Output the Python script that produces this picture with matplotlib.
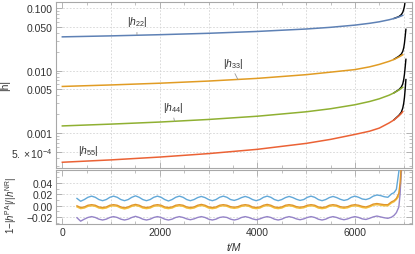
import matplotlib
matplotlib.use('Agg')
import matplotlib.pyplot as plt
from matplotlib.ticker import FixedLocator, MultipleLocator, NullFormatter, LogLocator

# ---------------- data ----------------
t_pa = [0, 1000, 2000, 3000, 4000, 5000, 5500, 6000, 6300, 6500, 6700, 6800, 6900, 6950, 6980]
h22_pa = [0.0348, 0.0361, 0.0377, 0.0397, 0.0425, 0.0465, 0.0495, 0.0537, 0.0574, 0.0607, 0.0654, 0.0685, 0.0726, 0.0752, 0.0769]
h33_pa = [0.00558, 0.00590, 0.00629, 0.00681, 0.00752, 0.00862, 0.00946, 0.0104, 0.0115, 0.0126, 0.0141, 0.0151, 0.0165, 0.0174, 0.0180]
h44_pa = [0.00130, 0.00139, 0.00150, 0.00165, 0.00186, 0.00219, 0.00245, 0.00284, 0.00320, 0.00354, 0.00404, 0.00440, 0.00488, 0.00520, 0.00540]
h55_pa = [3.40e-4, 3.71e-4, 4.12e-4, 4.68e-4, 5.48e-4, 6.82e-4, 7.91e-4, 9.50e-4, 1.07e-3, 1.20e-3, 1.45e-3, 1.62e-3, 1.88e-3, 2.05e-3, 2.20e-3]

t_nr = [6800, 6900, 6950, 6980, 7000, 7015, 7030, 7045]
h22_nr = [0.0686, 0.0735, 0.0790, 0.0860, 0.0960, 0.108, 0.130, 0.165]
h33_nr = [0.0152, 0.0170, 0.0184, 0.0203, 0.0232, 0.0275, 0.0350, 0.0460]
h44_nr = [0.00441, 0.00495, 0.00545, 0.00610, 0.00720, 0.00870, 0.0113, 0.0152]
h55_nr = [1.63e-3, 1.92e-3, 2.15e-3, 2.50e-3, 3.00e-3, 3.70e-3, 5.00e-3, 7.20e-3]

t_err = [300, 375, 450, 525, 600, 675, 750, 825, 900, 975, 1050, 1125, 1200, 1275, 1350, 1425,
         1500, 1575, 1650, 1725, 1800, 1875, 1950, 2025, 2100, 2175, 2250, 2325, 2400, 2475,
         2550, 2625, 2700, 2775, 2850, 2925, 3000, 3075, 3150, 3225, 3300, 3375, 3450, 3525,
         3600, 3675, 3750, 3825, 3900, 3975, 4050, 4125, 4200, 4275, 4350, 4425, 4500, 4575,
         4650, 4725, 4800, 4875, 4950, 5025, 5100, 5175, 5250, 5325, 5400, 5475, 5550, 5625,
         5700, 5775, 5850, 5925, 6000, 6075, 6150, 6225, 6300, 6375, 6450, 6525, 6600, 6675,
         6750, 6800, 6850, 6900, 6925, 6950, 6975, 7000]
err_blue = [0.013, 0.008, 0.011, 0.015, 0.017, 0.015,
            0.011, 0.009, 0.011, 0.015, 0.017, 0.015,
            0.011, 0.009, 0.011, 0.015, 0.0175, 0.015,
            0.011, 0.009, 0.011, 0.015, 0.017, 0.015,
            0.011, 0.0085, 0.011, 0.015, 0.017, 0.015,
            0.011, 0.009, 0.011, 0.0145, 0.0165, 0.0145,
            0.011, 0.009, 0.011, 0.015, 0.017, 0.015,
            0.011, 0.0095, 0.0115, 0.0145, 0.0165, 0.0145,
            0.011, 0.009, 0.011, 0.015, 0.017, 0.015,
            0.011, 0.009, 0.011, 0.0145, 0.0165, 0.0145,
            0.0115, 0.0095, 0.011, 0.015, 0.017, 0.015,
            0.011, 0.009, 0.011, 0.0145, 0.0165, 0.0145,
            0.0115, 0.0095, 0.011, 0.015, 0.017, 0.015,
            0.012, 0.011, 0.013, 0.017, 0.019, 0.018,
            0.016, 0.015,
            0.021, 0.023, 0.029, 0.060, 0.090, 0.15, 0.2, 0.3]
err_orange = [0.000, -0.003, -0.002, 0.001, 0.002, 0.001,
              -0.002, -0.003, -0.002, 0.001, 0.002, 0.001,
              -0.002, -0.0035, -0.002, 0.001, 0.0025, 0.001,
              -0.002, -0.003, -0.002, 0.001, 0.002, 0.001,
              -0.002, -0.003, -0.002, 0.001, 0.002, 0.001,
              -0.002, -0.003, -0.002, 0.001, 0.0025, 0.001,
              -0.002, -0.003, -0.002, 0.001, 0.002, 0.001,
              -0.0015, -0.0025, -0.0015, 0.001, 0.002, 0.001,
              -0.002, -0.003, -0.002, 0.001, 0.0025, 0.001,
              -0.002, -0.003, -0.002, 0.001, 0.002, 0.001,
              -0.0015, -0.0025, -0.0015, 0.001, 0.002, 0.001,
              -0.002, -0.003, -0.002, 0.001, 0.002, 0.001,
              -0.0015, -0.0025, -0.0015, 0.001, 0.002, 0.001,
              -0.001, -0.002, 0.000, 0.003, 0.004, 0.003,
              0.002, 0.002,
              0.007, 0.009, 0.013, 0.022, 0.040, 0.070, 0.12, 0.2]
err_yellow = [-0.002, -0.005, -0.004, -0.001, 0.000, -0.001,
              -0.004, -0.005, -0.004, -0.001, 0.000, -0.001,
              -0.004, -0.0055, -0.004, -0.001, 0.0005, -0.001,
              -0.004, -0.005, -0.004, -0.001, 0.000, -0.001,
              -0.004, -0.005, -0.004, -0.001, 0.000, -0.001,
              -0.004, -0.005, -0.004, -0.001, 0.0005, -0.001,
              -0.004, -0.005, -0.004, -0.001, 0.000, -0.001,
              -0.0035, -0.0045, -0.0035, -0.001, 0.000, -0.001,
              -0.004, -0.005, -0.004, -0.001, 0.0005, -0.001,
              -0.004, -0.005, -0.004, -0.001, 0.000, -0.001,
              -0.0035, -0.0045, -0.0035, -0.001, 0.000, -0.001,
              -0.004, -0.005, -0.004, -0.001, 0.000, -0.001,
              -0.0035, -0.0045, -0.0035, -0.001, 0.000, -0.001,
              -0.003, -0.004, -0.002, 0.001, 0.002, 0.001,
              0.000, 0.000,
              0.005, 0.007, 0.011, 0.017, 0.030, 0.055, 0.10, 0.2]
err_purple = [-0.021, -0.027, -0.0235, -0.0205, -0.019, -0.0205,
              -0.0235, -0.025, -0.0235, -0.0205, -0.019, -0.0205,
              -0.0235, -0.025, -0.0235, -0.0205, -0.0185, -0.0205,
              -0.0235, -0.025, -0.0235, -0.0205, -0.019, -0.0205,
              -0.0235, -0.025, -0.0235, -0.0205, -0.019, -0.0205,
              -0.023, -0.0245, -0.023, -0.0205, -0.019, -0.0205,
              -0.0235, -0.025, -0.0235, -0.0205, -0.0195, -0.0205,
              -0.0235, -0.025, -0.0235, -0.0205, -0.019, -0.0205,
              -0.023, -0.0245, -0.023, -0.0205, -0.019, -0.0205,
              -0.0235, -0.025, -0.0235, -0.0205, -0.019, -0.0205,
              -0.023, -0.0245, -0.023, -0.0205, -0.019, -0.0205,
              -0.0235, -0.025, -0.0235, -0.0205, -0.019, -0.0205,
              -0.023, -0.0245, -0.023, -0.0205, -0.019, -0.0205,
              -0.023, -0.024, -0.022, -0.0195, -0.018, -0.0195,
              -0.021, -0.022,
              -0.020, -0.017, -0.012, -0.002, 0.020, 0.060, 0.12, 0.2]

top_ticks = [5e-4, 1e-3, 5e-3, 1e-2, 5e-2, 1e-1]
top_labels = [r'$5.\times10^{-4}$', '0.001', '0.005', '0.010', '0.050', '0.100']
bot_ticks = [-0.02, 0.0, 0.02, 0.04]
bot_labels = ['\u22120.02', '0.00', '0.02', '0.04']
x_ticks = [0, 2000, 4000, 6000]
x_labels = ['0', '2000', '4000', '6000']

# ---------------- style ----------------
plt.rcParams['font.family'] = ['Liberation Sans', 'DejaVu Sans']
plt.rcParams['mathtext.fontset'] = 'custom'
plt.rcParams['mathtext.rm'] = 'Liberation Sans'
plt.rcParams['mathtext.it'] = 'Liberation Sans:italic'
plt.rcParams['mathtext.bf'] = 'Liberation Sans:bold'

FS = 7.5
TXT = '#333333'
FRAME = '#a8a8a8'
GRID = '#d4d4d4'

fig = plt.figure(figsize=(4.15, 2.55), dpi=100)
W, H = 415.0, 255.0
ax1 = fig.add_axes([56 / W, 1 - 169 / H, 356 / W, 166 / H])
ax2 = fig.add_axes([56 / W, 1 - 225 / H, 356 / W, 54 / H])

for ax in (ax1, ax2):
    for s in ax.spines.values():
        s.set_color(FRAME)
        s.set_linewidth(0.8)
    ax.tick_params(which='both', direction='in', top=True, right=True,
                   color=FRAME, labelcolor=TXT, labelsize=FS, pad=2.5)
    ax.tick_params(which='major', length=4, width=0.6)
    ax.tick_params(which='minor', length=2, width=0.5)
    ax.set_xlim(-130, 7170)
    ax.xaxis.set_major_locator(FixedLocator(x_ticks))
    ax.xaxis.set_minor_locator(MultipleLocator(500))
    for xv in range(1000, 8000, 1000):
        ax.axvline(xv, color=GRID, lw=0.6, ls=(0, (2, 2)), zorder=0)

# top panel
ax1.set_yscale('log')
ax1.set_ylim(2.75e-4, 0.126)
ax1.yaxis.set_major_locator(FixedLocator(top_ticks))
ax1.set_yticklabels(top_labels)
ax1.yaxis.set_minor_locator(LogLocator(base=10, subs=(2, 3, 4, 6, 7, 8, 9)))
ax1.yaxis.set_minor_formatter(NullFormatter())
ax1.tick_params(labelbottom=False)
for yv in top_ticks:
    ax1.axhline(yv, color=GRID, lw=0.6, ls=(0, (2, 2)), zorder=0)

cols_top = ['#5e81b5', '#e19c24', '#8fb032', '#eb6235']
for hnr in (h22_nr, h33_nr, h44_nr, h55_nr):
    ax1.plot(t_nr, hnr, color='black', lw=1.0, zorder=2)
for hpa, c in zip((h22_pa, h33_pa, h44_pa, h55_pa), cols_top):
    ax1.plot(t_pa, hpa, color=c, lw=1.1, zorder=3)

ann = dict(arrowstyle='-', color='#9a9a9a', lw=0.6, shrinkA=1, shrinkB=0, relpos=(0.5, 0.0))
ax1.annotate(r'$|h_{22}|$', xy=(1530, 0.0372), xytext=(1530, 0.062), ha='center', va='center',
             fontsize=FS, color=TXT, arrowprops=ann)
ax1.annotate(r'$|h_{33}|$', xy=(3600, 0.00722), xytext=(3497, 0.01346), ha='center', va='center',
             fontsize=FS, color=TXT, arrowprops=ann)
ax1.annotate(r'$|h_{44}|$', xy=(2300, 0.00155), xytext=(2267, 0.00263), ha='center', va='center',
             fontsize=FS, color=TXT, arrowprops=ann)
ax1.annotate(r'$|h_{55}|$', xy=(530, 3.55e-4), xytext=(523, 5.37e-4), ha='center', va='center',
             fontsize=FS, color=TXT, arrowprops=ann)

ax1.set_ylabel('|h|', fontsize=FS, color=TXT)
ax1.yaxis.set_label_coords(-0.13, 0.5)

# bottom panel
ax2.set_ylim(-0.032, 0.063)
ax2.yaxis.set_major_locator(FixedLocator(bot_ticks))
ax2.set_yticklabels(bot_labels)
ax2.yaxis.set_minor_locator(MultipleLocator(0.01))
ax2.set_xticklabels(x_labels)
for yv in bot_ticks:
    ax2.axhline(yv, color=GRID, lw=0.6, ls=(0, (2, 2)), zorder=0)

ax2.plot(t_err, err_blue, color='#62a8d8', lw=1.0, zorder=3)
ax2.plot(t_err, err_yellow, color='#f5c23c', lw=1.0, zorder=3)
ax2.plot(t_err, err_orange, color='#e0962a', lw=1.0, zorder=4)
ax2.plot(t_err, err_purple, color='#9584c8', lw=1.0, zorder=3)

fig.text(11 / W, 1 - 206 / H, r'1$-|h^{\mathrm{PA}}|/|h^{\mathrm{NR}}|$', fontsize=7,
         color=TXT, rotation=90, ha='center', va='center')
ax2.set_xlabel('t/M', fontsize=FS, color=TXT, style='italic', labelpad=3)

fig.savefig('out.png', dpi=100)
